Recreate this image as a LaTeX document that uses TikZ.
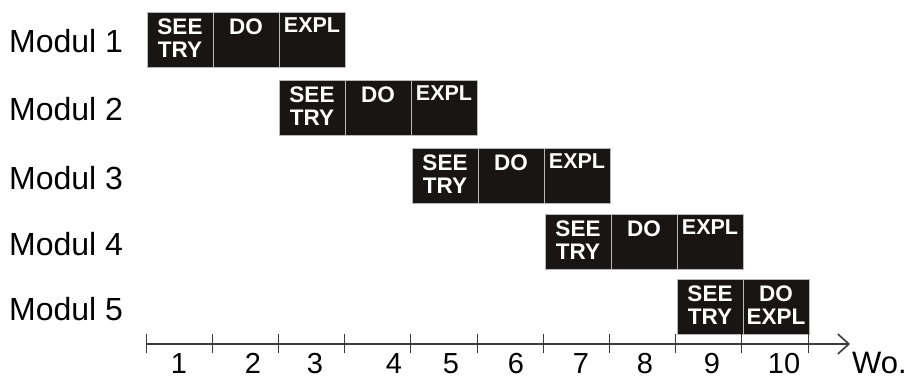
\documentclass[tikz,border=0pt]{standalone}
\usepackage{fontspec}
\setmainfont{Liberation Sans}
\usetikzlibrary{arrows.meta}
\definecolor{cellfill}{HTML}{1A1515}
\definecolor{celledge}{HTML}{B8B8B8}
\definecolor{axisgray}{HTML}{3A3A3A}
\tikzset{
  cellbox/.style={draw=celledge, line width=0.8pt, fill=cellfill,
    minimum width=66pt, minimum height=55pt, inner sep=0pt, outer sep=0pt},
  celltext/.style={text=white, font=\fontsize{22.5}{23}\selectfont\bfseries,
    align=center, inner sep=0pt, anchor=north},
  smalltext/.style={font=\fontsize{21.5}{22}\selectfont\bfseries},
  modlabel/.style={font=\fontsize{32}{32}\selectfont, anchor=west, inner sep=0pt},
  weeklabel/.style={font=\fontsize{29}{29}\selectfont, anchor=base, inner sep=0pt,
    text depth=0pt},
  tickline/.style={draw=axisgray, line width=0.7pt},
  axisline/.style={draw=axisgray, line width=1.8pt,
    -{Straight Barb[length=11pt, width=20pt, line width=1.6pt]}}
}
% one cell of a module: name, left x, top y, text
\newcommand{\modcell}[4]{%
  \node[cellbox, anchor=north west] (#1) at (#2,#3) {};
  \node[celltext] (#1t) at ([yshift=-7pt]#1.north) {#4};
}
% a cell holding the slightly smaller EXPL label
\newcommand{\explcell}[3]{%
  \node[cellbox, anchor=north west] (#1) at (#2,#3) {};
  \node[celltext, smalltext] (#1t) at ([yshift=-5.5pt]#1.north) {EXPL};
}
\begin{document}
\begin{tikzpicture}[x=1pt, y=-1pt]
  \useasboundingbox (0,0) rectangle (905,379);

  % module rows
  \foreach \m/\ly in {1/41, 2/109, 3/178, 4/244, 5/309} {
    \node[modlabel] (mod\m) at (9,\ly) {Modul \m};
  }
  \modcell{c11}{147}{12}{SEE\\TRY}
  \modcell{c12}{213}{12}{DO}
  \explcell{c13}{279}{12}

  \modcell{c21}{279}{80}{SEE\\TRY}
  \modcell{c22}{345}{80}{DO}
  \explcell{c23}{411}{80}

  \modcell{c31}{412}{148}{SEE\\TRY}
  \modcell{c32}{478}{148}{DO}
  \explcell{c33}{544}{148}

  \modcell{c41}{545}{214}{SEE\\TRY}
  \modcell{c42}{611}{214}{DO}
  \explcell{c43}{677}{214}

  \modcell{c51}{677}{279}{SEE\\TRY}
  \modcell{c52}{743}{279}{DO\\EXPL}

  % time axis in weeks
  \coordinate (axstart) at (146,344);
  \coordinate (axend) at (850,344);
  \draw[axisline] (axstart) -- (axend);
  \foreach \i in {0,...,10} {
    \coordinate (tt\i) at ({146+66.2*\i},334);
    \coordinate (tb\i) at ({146+66.2*\i},353);
    \draw[tickline] (tt\i) -- (tb\i);
  }
  \foreach \n/\x in {1/179, 2/253, 3/315, 4/394, 5/451, 6/516, 7/581, 8/645, 9/712, 10/784} {
    \node[weeklabel] (wk\n) at (\x,373) {\n};
  }
  \node[font=\fontsize{31}{31}\selectfont, anchor=base west, inner sep=0pt,
    text depth=0pt] (wo) at (852,373) {Wo.};
\end{tikzpicture}
\end{document}
